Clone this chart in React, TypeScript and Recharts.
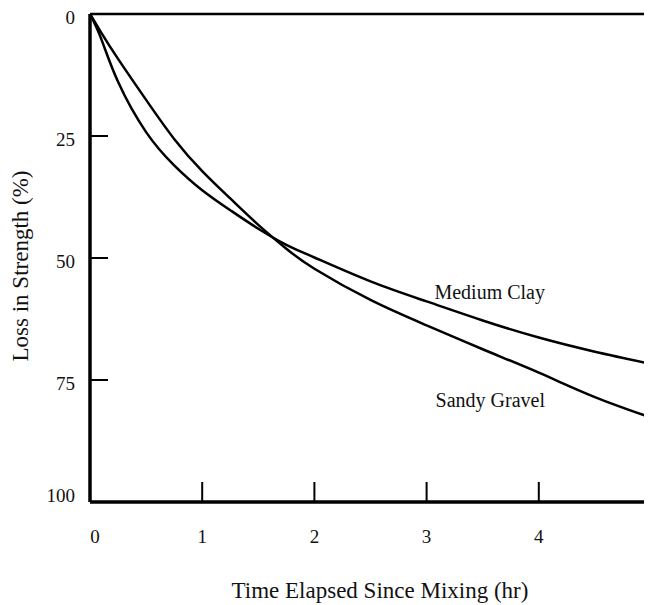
import React from 'react';
import { LineChart, Line, XAxis, YAxis, ReferenceLine, ReferenceDot } from 'recharts';

const hours = [0, 0.1, 0.25, 0.5, 0.75, 1, 1.25, 1.5, 1.75, 2, 2.5, 3, 3.5, 4, 4.5, 5];
const mediumClay = [0, 5.1, 13.9, 24.2, 31, 36.1, 40.2, 44, 47.3, 49.9, 54.8, 58.9, 62.8, 66.3, 69.2, 71.7];
const sandyGravel = [0, 3.8, 9.2, 17.6, 25.6, 32.2, 37.8, 43.2, 48.1, 52.2, 58.6, 63.8, 68.7, 73.5, 78.5, 82.7];

const xTicks = [0, 1, 2, 3, 4, 5];
const yTicks = [0, 25, 50, 75, 100];

const curveLabels = [
  { name: 'Medium Clay', x: 3.07, y: 58.4 },
  { name: 'Sandy Gravel', x: 3.08, y: 80.5 },
];

const data = hours.map((h, i) => ({ h, clay: mediumClay[i], gravel: sandyGravel[i] }));

const FONT = '"Liberation Serif", "Times New Roman", serif';

const XTick = (props: any) => {
  const { x, y, payload } = props;
  const v = payload.value;
  const inner = v !== 0 && v !== 5;
  return (
    <g>
      {inner && <line x1={x} y1={y} x2={x} y2={y - 20} stroke="#000" strokeWidth={2} />}
      <text x={v === 0 ? x + 5 : x} y={y + 41} textAnchor="middle" fontSize={19} fontFamily={FONT} fill="#111">
        {v}
      </text>
    </g>
  );
};

const YTick = (props: any) => {
  const { x, y, payload } = props;
  const v = payload.value;
  const inner = v !== 0 && v !== 100;
  const shift = v === 100 ? -7 : 3;
  return (
    <g>
      {inner && <line x1={x} y1={y} x2={x + 18} y2={y} stroke="#000" strokeWidth={2} />}
      <text x={x - 15} y={y + shift} textAnchor="end" dominantBaseline="central" fontSize={19} fontFamily={FONT} fill="#111">
        {v}
      </text>
    </g>
  );
};

const YTitle = (props: any) => {
  const { viewBox } = props;
  const cx = viewBox.x + 12;
  const cy = viewBox.y + viewBox.height / 2 + 8;
  return (
    <text
      x={cx}
      y={cy}
      transform={`rotate(-90 ${cx} ${cy})`}
      textAnchor="middle"
      dominantBaseline="central"
      fontSize={23}
      fontFamily={FONT}
      fill="#111"
    >
      Loss in Strength (%)
    </text>
  );
};

const XTitle = (props: any) => {
  const { viewBox } = props;
  const cx = viewBox.x + viewBox.width / 2 + 9.5;
  return (
    <text x={cx} y={viewBox.y + 96} textAnchor="middle" fontSize={23} fontFamily={FONT} fill="#111">
      Time Elapsed Since Mixing (hr)
    </text>
  );
};

const CurveText = (name: string) => (props: any) => (
  <text x={props.cx} y={props.cy} textAnchor="start" fontSize={20} fontFamily={FONT} fill="#111">
    {name}
  </text>
);

export default function App() {
  return (
    <div style={{ width: 644, height: 597, overflow: 'hidden', fontFamily: FONT }}>
      <LineChart width={664} height={597} data={data} margin={{ top: 6, right: 21, left: 0, bottom: 0 }}>
        <XAxis
          dataKey="h"
          type="number"
          domain={[0, 5]}
          ticks={xTicks}
          height={103}
          tickSize={0}
          tickMargin={0}
          tickLine={false}
          axisLine={{ stroke: '#000', strokeWidth: 3.5 }}
          tick={<XTick />}
          interval={0}
          label={<XTitle />}
        />
        <YAxis
          type="number"
          reversed
          domain={[0, 100]}
          ticks={yTicks}
          width={82}
          tickSize={0}
          tickMargin={0}
          tickLine={false}
          axisLine={{ stroke: '#000', strokeWidth: 3.5 }}
          tick={<YTick />}
          interval={0}
          label={<YTitle />}
        />
        <ReferenceLine y={0} stroke="#000" strokeWidth={2.5} />
        <ReferenceLine x={5} stroke="#000" strokeWidth={2.5} />
        <Line type="natural" dataKey="clay" stroke="#000" strokeWidth={2.5} dot={false} isAnimationActive={false} />
        <Line type="natural" dataKey="gravel" stroke="#000" strokeWidth={2.5} dot={false} isAnimationActive={false} />
        {curveLabels.map((c) => (
          <ReferenceDot key={c.name} x={c.x} y={c.y} r={0} shape={CurveText(c.name)} />
        ))}
      </LineChart>
    </div>
  );
}
